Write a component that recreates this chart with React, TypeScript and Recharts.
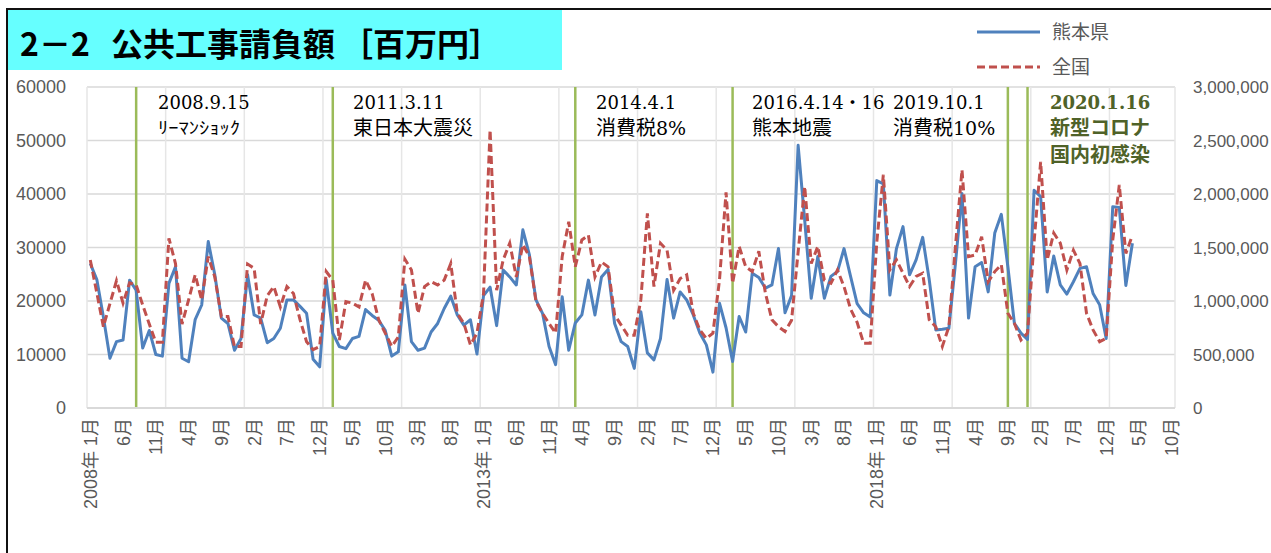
import React from 'react';
import { LineChart, Line, XAxis, YAxis, CartesianGrid, ReferenceLine } from 'recharts';

// 2008年1月 〜 2021年4月 (monthly)
const kumamoto = [
  27000, 24000, 17000, 9300, 12400, 12700, 23900, 22000, 11200, 14500, 10000, 9700,
  23300, 26400, 9300, 8650, 16500, 19250, 31100, 24900, 16800, 15800, 10800, 13000,
  24900, 17400, 16800, 12200, 13000, 14900, 20200, 20200, 19000, 17700, 9100, 7700,
  24000, 14000, 11500, 11100, 13000, 13400, 18400, 17300, 16400, 14500, 9700, 10500,
  23000, 12400, 10800, 11200, 14200, 15800, 18600, 20900, 17400, 15500, 16500, 10100,
  21000, 22600, 15400, 25800, 24500, 23000, 33300, 28600, 20200, 17700, 11500, 8100,
  20800, 10800, 15900, 17400, 23900, 17400, 24500, 25900, 15800, 12400, 11500, 7400,
  18000, 10300, 9000, 13000, 24000, 16800, 21700, 20200, 17400, 14000, 11800, 6700,
  19600, 15000, 8700, 17100, 14200, 25200, 24400, 22400, 23000, 29800, 17800, 21000,
  49100, 35100, 20500, 28300, 20500, 24600, 25500, 29800, 24600, 19500, 17800, 17000,
  42500, 41900, 21100, 29800, 33900, 24900, 27700, 31900, 24000, 14600, 14700, 14900,
  27000, 40100, 16800, 26400, 27200, 21700, 32700, 36200, 26400, 15800, 14000, 12800,
  40700, 39500, 21700, 28400, 23000, 21300, 23600, 26100, 26400, 21400, 19300, 13000,
  37600, 37500, 22900, 30800,
];

const zenkoku = [
  1383000, 1075000, 760000, 975000, 1190000, 980000, 1170000, 1150000, 962000, 785000, 615000, 615000,
  1585000, 1350000, 785000, 1010000, 1245000, 1010000, 1415000, 1225000, 855000, 855000, 575000, 575000,
  1345000, 1305000, 785000, 1050000, 1135000, 945000, 1135000, 1070000, 825000, 620000, 545000, 575000,
  1275000, 1195000, 635000, 995000, 980000, 945000, 1195000, 1070000, 825000, 700000, 575000, 665000,
  1390000, 1290000, 885000, 1135000, 1180000, 1150000, 1195000, 1350000, 885000, 790000, 590000, 700000,
  1070000, 2600000, 1100000, 1385000, 1540000, 1225000, 1525000, 1415000, 995000, 885000, 790000, 700000,
  1415000, 1740000, 1320000, 1570000, 1615000, 1225000, 1365000, 1320000, 870000, 775000, 680000, 680000,
  1010000, 1820000, 1135000, 1540000, 1475000, 1100000, 1210000, 1245000, 885000, 730000, 650000, 700000,
  1195000, 2015000, 1165000, 1510000, 1320000, 1275000, 1465000, 1075000, 825000, 760000, 715000, 820000,
  1460000, 2070000, 1350000, 1510000, 1195000, 1165000, 1290000, 1135000, 925000, 800000, 605000, 605000,
  1550000, 2180000, 1290000, 1385000, 1260000, 1135000, 1230000, 1260000, 825000, 760000, 575000, 760000,
  1510000, 2225000, 1415000, 1430000, 1600000, 1180000, 1275000, 1340000, 885000, 790000, 635000, 700000,
  1550000, 2300000, 1385000, 1635000, 1540000, 1290000, 1475000, 1350000, 885000, 730000, 620000, 650000,
  1570000, 2085000, 1445000, 1615000,
];

const xTickIdx = [0, 5, 10, 15, 20, 25, 30, 35, 40, 45, 50, 55, 60, 65, 70, 75, 80, 85, 90, 95, 100, 105, 110, 115, 120, 125, 130, 135, 140, 145, 150, 155, 160, 165];
const xTickLabels = [
  '2008年 1月', '6月', '11月', '4月', '9月', '2月', '7月', '12月', '5月', '10月', '3月', '8月',
  '2013年 1月', '6月', '11月', '4月', '9月', '2月', '7月', '12月', '5月', '10月', '3月', '8月',
  '2018年 1月', '6月', '11月', '4月', '9月', '2月', '7月', '12月', '5月', '10月',
];
const leftTicks = [0, 10000, 20000, 30000, 40000, 50000, 60000];
const rightTicks = [0, 500000, 1000000, 1500000, 2000000, 2500000, 3000000];
const yearBoundaries = [-0.5, 11.5, 23.5, 35.5, 47.5, 59.5, 71.5, 83.5, 95.5, 107.5, 119.5, 131.5, 143.5, 155.5, 165.5];
const eventIdx = [7, 37, 74, 98, 140, 143];

const data = kumamoto.map((v, i) => ({ idx: i, kumamoto: v, zenkoku: zenkoku[i] }));

const AXIS_FONT = "'Liberation Sans', 'Noto Sans CJK JP', sans-serif";
const SERIF = "'DejaVu Serif', 'Noto Sans CJK JP', serif";
const CJK = "'Noto Sans CJK JP', sans-serif";

const XTick = (props: any) => {
  const { x, y, payload } = props;
  const k = xTickIdx.indexOf(payload.value);
  const label = k >= 0 ? xTickLabels[k] : '';
  const ty = y + 10;
  return (
    <text x={x} y={ty} transform={`rotate(-90, ${x}, ${ty})`} textAnchor="end" dy="0.36em"
      fontSize={18} fill="#595959" fontFamily={AXIS_FONT}>{label}</text>
  );
};

const LeftTick = (props: any) => {
  const { x, y, payload } = props;
  return (
    <text x={x - 21} y={y} textAnchor="end" dy="0.36em" fontSize={18} fill="#595959" fontFamily={AXIS_FONT}>
      {String(payload.value)}
    </text>
  );
};

const RightTick = (props: any) => {
  const { x, y, payload } = props;
  return (
    <text x={x + 18} y={y} textAnchor="start" dy="0.36em" fontSize={17} fill="#595959" fontFamily={AXIS_FONT}>
      {Number(payload.value).toLocaleString('en-US')}
    </text>
  );
};

type Note = { x: number; l1: string; l2?: string; l3?: string; green?: boolean; small?: boolean };
const notes: Note[] = [
  { x: 158, l1: '2008.9.15', l2: 'ﾘｰﾏﾝｼｮｯｸ', small: true },
  { x: 353, l1: '2011.3.11', l2: '東日本大震災' },
  { x: 596, l1: '2014.4.1', l2: '消費税8%' },
  { x: 752, l1: '2016.4.14・16', l2: '熊本地震' },
  { x: 893, l1: '2019.10.1', l2: '消費税10%' },
  { x: 1050, l1: '2020.1.16', l2: '新型コロナ', l3: '国内初感染', green: true },
];

const renderL2 = (s: string, x: number, y: number, color: string, bold: boolean) => {
  // split CJK part and ASCII tail (e.g. 消費税8%)
  const m = s.match(/^([^0-9%]+)([0-9%]*)$/);
  const head = m ? m[1] : s;
  const tail = m ? m[2] : '';
  return (
    <text x={x} y={y} fill={color} fontWeight={bold ? 700 : 400}>
      <tspan fontFamily={CJK} fontSize={20}>{head}</tspan>
      {tail ? <tspan fontFamily={SERIF} fontSize={19}>{tail}</tspan> : null}
    </text>
  );
};

export default function App() {
  return (
    <div style={{ position: 'fixed', left: 0, top: 0, width: 1271, height: 553, overflow: 'hidden', background: '#fff' }}>
      <div style={{ position: 'absolute', left: 0, top: 0 }}>
        <LineChart width={1271} height={553} data={data} margin={{ top: 87, right: 0, bottom: 0, left: 0 }}>
          <CartesianGrid yAxisId="left" vertical={false} stroke="#d9d9d9" strokeWidth={1.5} />
          <XAxis dataKey="idx" type="number" domain={[-0.5, 165.5]} ticks={xTickIdx} interval={0}
            height={145} tick={<XTick />} tickLine={false} tickSize={0} tickMargin={0}
            axisLine={{ stroke: '#d9d9d9', strokeWidth: 2 }} allowDataOverflow />
          <YAxis yAxisId="left" orientation="left" width={87} domain={[0, 60000]} ticks={leftTicks}
            tick={<LeftTick />} tickLine={false} tickSize={0} tickMargin={0} axisLine={false} interval={0} />
          <YAxis yAxisId="right" orientation="right" width={96} domain={[0, 3000000]} ticks={rightTicks}
            tick={<RightTick />} tickLine={false} tickSize={0} tickMargin={0} axisLine={false} interval={0} />
          {yearBoundaries.map((b) => (
            <ReferenceLine key={'yb' + b} yAxisId="left" x={b} stroke="#e6e6e6" strokeWidth={1.5} />
          ))}
          {eventIdx.map((e) => (
            <ReferenceLine key={'ev' + e} yAxisId="left" x={e} stroke="#9BBB59" strokeWidth={2.5} />
          ))}
          <Line yAxisId="left" type="linear" dataKey="kumamoto" name="熊本県" stroke="#4F81BD" strokeWidth={3}
            dot={false} isAnimationActive={false} strokeLinejoin="round" />
          <Line yAxisId="right" type="linear" dataKey="zenkoku" name="全国" stroke="#C0504D" strokeWidth={3}
            strokeDasharray="8 4" dot={false} isAnimationActive={false} />
        </LineChart>
      </div>
      <svg width={1271} height={553} style={{ position: 'absolute', left: 0, top: 0, pointerEvents: 'none' }}>
        <rect x={7} y={9} width={1400} height={700} fill="none" stroke="#111" strokeWidth={2} />
        <rect x={8} y={10} width={554} height={60} fill="#66FFFF" />
        <text y={56} fontFamily={CJK} fontWeight={700} fontSize={32} fill="#000">
          <tspan x={20}>2－2</tspan>
          <tspan x={111}>公共工事請負額</tspan>
          <tspan x={341}>［百万円］</tspan>
        </text>
        <line x1={977} y1={32} x2={1040} y2={32} stroke="#4F81BD" strokeWidth={3} />
        <text x={1052} y={39} fontFamily={CJK} fontSize={19} fill="#595959">熊本県</text>
        <line x1={977} y1={67} x2={1040} y2={67} stroke="#C0504D" strokeWidth={3} strokeDasharray="8 4" />
        <text x={1052} y={74} fontFamily={CJK} fontSize={19} fill="#595959">全国</text>
        {notes.map((n) => {
          const color = n.green ? '#4F6228' : '#000';
          return (
            <g key={n.l1}>
              <text x={n.x} y={109} fontFamily={SERIF} fontSize={18} fill={color} fontWeight={n.green ? 700 : 400}>{n.l1}</text>
              {n.l2 ? (n.small
                ? <text x={n.x} y={134} fontFamily={CJK} fontSize={17} fill={color} textLength={82} lengthAdjust="spacingAndGlyphs">{n.l2}</text>
                : renderL2(n.l2, n.x, 135, color, !!n.green)) : null}
              {n.l3 ? renderL2(n.l3, n.x, 162, color, !!n.green) : null}
            </g>
          );
        })}
      </svg>
    </div>
  );
}
